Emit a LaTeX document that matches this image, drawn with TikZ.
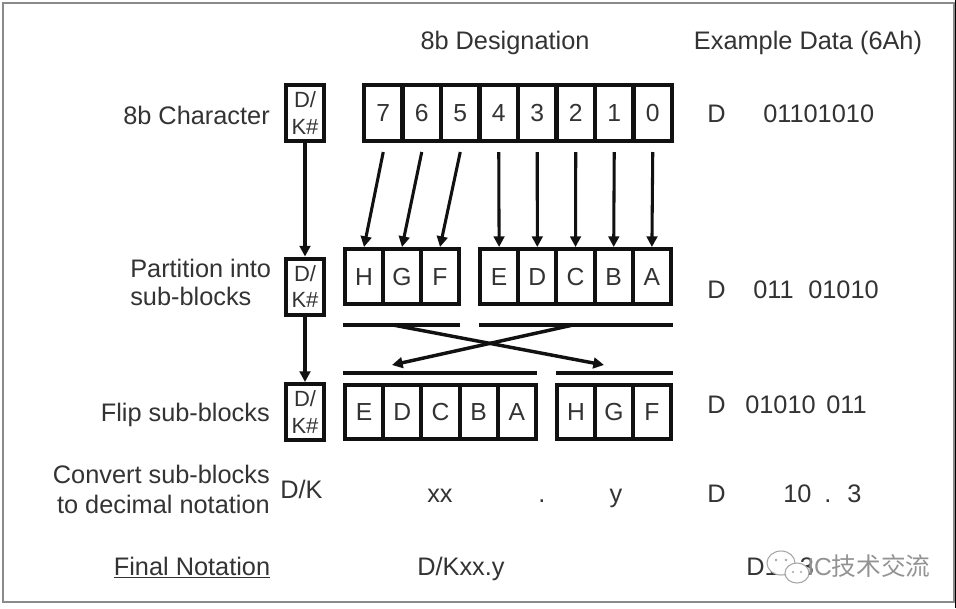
\documentclass[tikz,border=0pt]{standalone}
\usepackage{fontspec}
\setmainfont{Liberation Sans}
\newfontfamily\cjkfont{Noto Sans CJK SC}
\usetikzlibrary{arrows.meta,calc}
\definecolor{txt}{HTML}{333333}
\definecolor{ink}{HTML}{111111}
\definecolor{frame}{HTML}{8A8A8A}
\begin{document}
\begin{tikzpicture}[x=0.75pt,y=-0.75pt,
  cell/.style={draw=ink,line width=3pt,inner sep=0pt,text=txt,text height=13.2pt,text depth=0pt,
     font=\fontsize{18.5}{20}\selectfont},
  dkbox/.style={draw=ink,line width=3pt,inner sep=0pt,minimum width=28.5pt,minimum height=42pt,
     align=center,text=txt,font=\fontsize{16.5}{20}\selectfont},
  lbl/.style={text=txt,inner sep=0pt,font=\fontsize{19}{21}\selectfont},
  arr/.style={draw=ink,line width=2.3pt,-{Triangle[length=8pt,width=8pt]}},
  bar/.style={draw=ink,line width=3pt},
  xline/.style={draw=ink,line width=2.6pt,-{Triangle[length=8pt,width=8pt]}}
]
\fill[white] (0,0) rectangle (956,608);
\useasboundingbox (0,0) rectangle (956,608);
\draw[frame,line width=1.5pt] (3,3) rectangle (954,602);
\fill[black] (955,0) rectangle (956,608);

% headers
\node[lbl,anchor=base] (h1) at (505,49) {8b Designation};
\node[lbl,anchor=base] (h2) at (808,49) {Example Data (6Ah)};

% D/K# boxes
\node[dkbox] (dk1) at (305,113) {D/\\K\#};
\node[dkbox] (dk2) at (305,286.5) {D/\\K\#};
\node[dkbox] (dk3) at (305,412) {D/\\K\#};
\draw[arr] (dk1.south) -- (dk2.north);
\draw[arr] (dk2.south) -- (dk3.north);

% row 1 : bits
\foreach \d [count=\i from 0] in {7,6,5,4,3,2,1,0}
  \node[cell,minimum width=28.9pt,minimum height=42pt] (r\d) at ({364+38.5*(\i+0.5)},113) {\d};

% row 2 : partition
\foreach \l [count=\i from 0] in {H,G,F}
  \node[cell,minimum width=28.5pt,minimum height=41.25pt] (p\l) at ({364+38*\i},276.5) {\l};
\foreach \l [count=\i from 0] in {E,D,C,B,A}
  \node[cell,minimum width=28.65pt,minimum height=41.25pt] (p\l) at ({499.1+38.2*\i},276.5) {\l};

% arrows row1 -> row2
\foreach \s/\t in {7/H,6/G,5/F,4/E,3/D,2/C,1/B,0/A}
  \draw[arr] ($(r\s.south)+(0,9)$) -- (p\t.north);

% row 3 : flipped
\foreach \l [count=\i from 0] in {E,D,C,B,A}
  \node[cell,minimum width=28.65pt,minimum height=40.5pt] (f\l) at ({364.1+38.2*\i},412) {\l};
\foreach \l [count=\i from 0] in {H,G,F}
  \node[cell,minimum width=28.5pt,minimum height=40.5pt] (f\l) at ({576+38*\i},412) {\l};

% bars and crossing arrows
\coordinate (b1l) at (343,325); \coordinate (b1r) at (460,325);
\coordinate (b2l) at (479,325); \coordinate (b2r) at (673,325);
\coordinate (b3l) at (343,373); \coordinate (b3r) at (537,373);
\coordinate (b4l) at (556,373); \coordinate (b4r) at (673,373);
\draw[bar] (b1l) -- (b1r);
\draw[bar] (b2l) -- (b2r);
\draw[bar] (b3l) -- (b3r);
\draw[bar] (b4l) -- (b4r);
\coordinate (xs1) at (393,325); \coordinate (xe1) at (604,365);
\coordinate (xs2) at (573,325); \coordinate (xe2) at (392,365);
\draw[xline] (xs1) -- (xe1);
\draw[xline] (xs2) -- (xe2);

% left labels
\node[lbl,anchor=base east] (l1) at (270,124) {8b Character};
\node[lbl,anchor=base west] (l2a) at (130,277) {Partition into};
\node[lbl,anchor=base west] (l2b) at (130,305) {sub-blocks};
\node[lbl,anchor=base east] (l3) at (270,421) {Flip sub-blocks};
\node[lbl,anchor=base east] (l4a) at (270,483) {Convert sub-blocks};
\node[lbl,anchor=base east] (l4b) at (270,513) {to decimal notation};
\node[lbl,anchor=base] (l5) at (192,575) {\underline{Final Notation}};

% row 4 middle
\node[lbl,anchor=base west] (dk4) at (280,498) {D/K};
\node[lbl,anchor=base west] (xx) at (427,502) {xx};
\node[lbl,anchor=base] (dot) at (542,502) {.};
\node[lbl,anchor=base] (yy) at (616,502) {y};
\node[lbl,anchor=base west] (fin) at (417,575) {D/Kxx.y};

% example data column
\node[lbl,anchor=base west] (e1d) at (707,122) {D};
\node[lbl,anchor=base west] (e1v) at (763,122) {01101010};
\node[lbl,anchor=base west] (e2d) at (707,298) {D};
\node[lbl,anchor=base west] (e2a) at (753,298) {011};
\node[lbl,anchor=base west] (e2b) at (808,298) {01010};
\node[lbl,anchor=base west] (e3d) at (707,413) {D};
\node[lbl,anchor=base west] (e3a) at (745,413) {01010};
\node[lbl,anchor=base west] (e3b) at (826,413) {011};
\node[lbl,anchor=base west] (e4d) at (707,502) {D};
\node[lbl,anchor=base west] (e4a) at (783,502) {10};
\node[lbl,anchor=base] (e4b) at (828,502) {.};
\node[lbl,anchor=base west] (e4c) at (847,502) {3};
\node[lbl,anchor=base west] (e5) at (746,575) {D10.3};

% watermark
\fill[white,draw=gray!70,line width=0.8pt] (781,563) ellipse [x radius=14, y radius=12];
\fill[white,draw=gray!70,line width=0.8pt] (797,573) ellipse [x radius=12, y radius=10];
\fill[gray!70] (776,560) circle (1.4) (786,560) circle (1.4) (793,572) circle (1.2) (801,572) circle (1.2);
\node[anchor=base west,inner sep=0pt,text=gray!85,font=\fontsize{18.5}{20}\selectfont] (wm) at (807,575) {IC{\cjkfont 技术交流}};
\end{tikzpicture}
\end{document}
